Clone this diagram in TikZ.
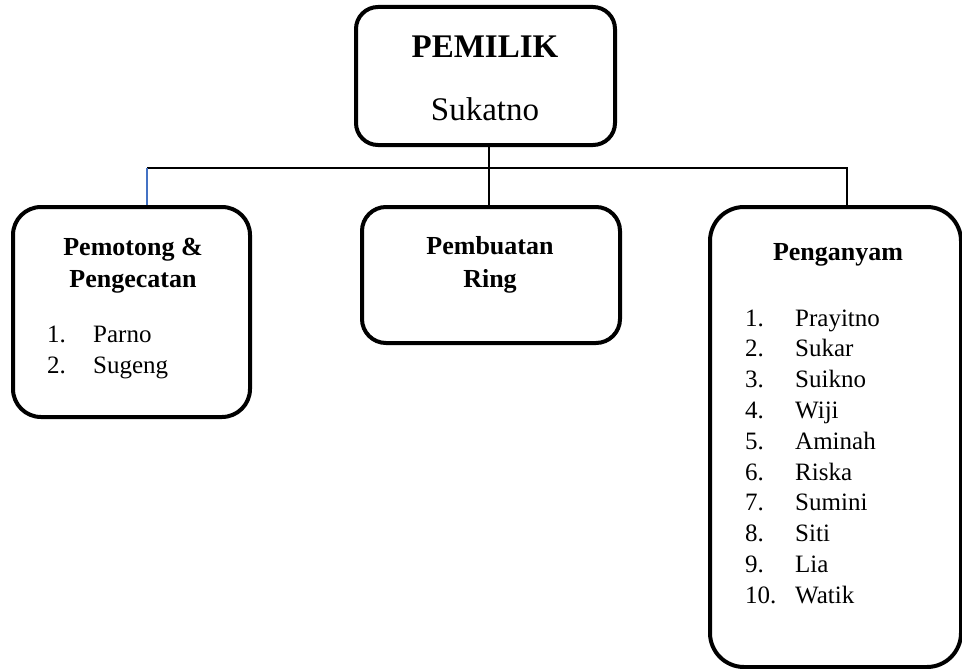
\documentclass[tikz,border=0pt]{standalone}
\usepackage{fontspec}
\setmainfont{Liberation Serif}
\definecolor{wordblue}{RGB}{68,114,196}
\begin{document}
\begin{tikzpicture}[x=1pt,y=-1pt,
  box/.style={draw=black,line width=4pt,rounded corners=#1,inner sep=0pt},
  box/.default=28pt,
  conn/.style={draw=black,line width=1.3pt},
  head/.style={anchor=base,inner sep=0pt,font=\fontsize{26}{30}\selectfont\bfseries},
  big/.style={anchor=base,inner sep=0pt,font=\fontsize{33}{38}\selectfont},
  item/.style={anchor=base west,inner sep=0pt,font=\fontsize{25}{29}\selectfont}]
\useasboundingbox (0,0) rectangle (962,669);
% boxes
\node[box=22pt,minimum width=259pt,minimum height=138pt] (top) at (485.5,76) {};
\node[box,minimum width=237pt,minimum height=210pt] (left) at (131.5,312) {};
\node[box=24pt,minimum width=258pt,minimum height=136pt] (mid) at (491,275) {};
\node[box=34pt,minimum width=251pt,minimum height=460pt] (right) at (835.5,437) {};
% connectors
\coordinate (jL) at (147,168);
\coordinate (jC) at (489,168);
\coordinate (jR) at (847,168);
\draw[conn] (jC |- top.south) -- (jC |- mid.north);
\draw[conn] (jL) -- (jR) -- (jR |- right.north);
\draw[line width=1.3pt,draw=wordblue] (jL) -- (jL |- left.north);
% top box text
\node[big,font=\fontsize{33}{38}\selectfont\bfseries] (t1) at (485,58) {PEMILIK};
\node[big] (t2) at (485,121) {Sukatno};
% left box text
\node[head] (l1) at (133,255) {Pemotong \&};
\node[head] (l2) at (133,287) {Pengecatan};
\node[item] (ln1) at (47,342) {1.};
\node[item] (lp1) at (93,342) {Parno};
\node[item] (ln2) at (47,373) {2.};
\node[item] (lp2) at (93,373) {Sugeng};
% middle box text
\node[head] (m1) at (490,254) {Pembuatan};
\node[head] (m2) at (490,287) {Ring};
% right box text
\node[head] (r0) at (838,260) {Penganyam};
\foreach \n/\name [count=\i from 0] in {1/Prayitno,2/Sukar,3/Suikno,4/Wiji,5/Aminah,6/Riska,7/Sumini,8/Siti,9/Lia,10/Watik}{
  \node[item] (rn\n) at (745,326+30.8*\i) {\n.};
  \node[item] (rp\n) at (795,326+30.8*\i) {\name};
}
\end{tikzpicture}
\end{document}
